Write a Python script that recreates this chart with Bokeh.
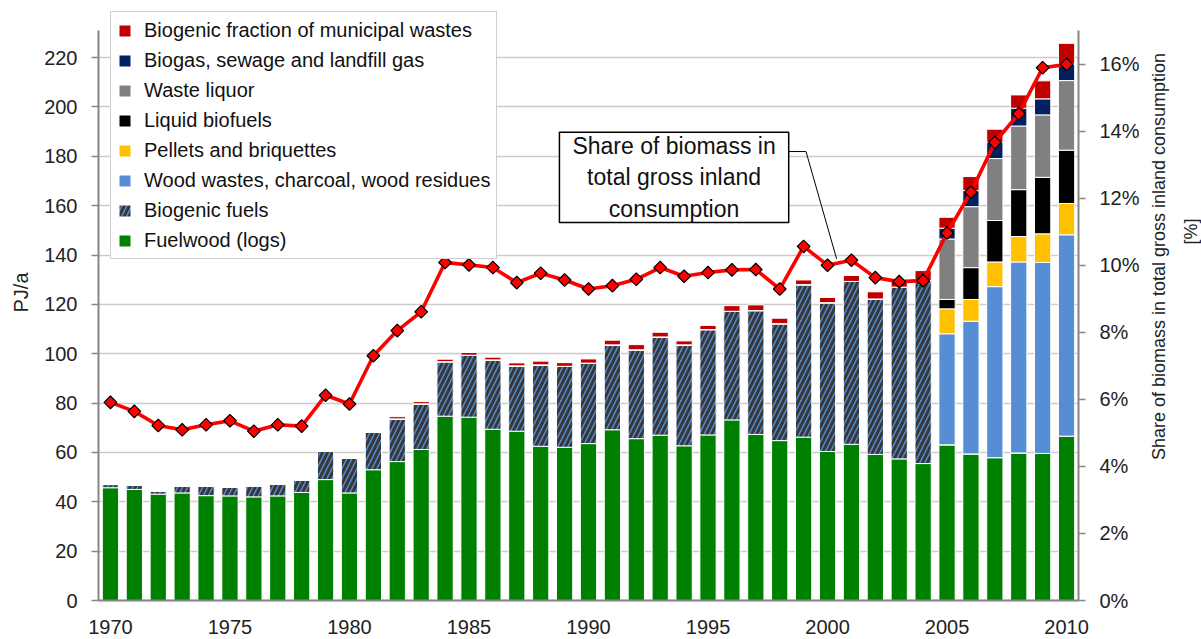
import numpy as np
from bokeh.plotting import figure
from bokeh.models import (Range1d, LinearAxis, FixedTicker, PrintfTickFormatter,
                          Legend, LegendItem, Label, BoxAnnotation)
from bokeh.embed import file_html
from bokeh.resources import INLINE

# ---------------- data (PJ/a) ----------------
years = list(range(1970, 2011))

fuelwood = [45.7, 45.0, 43.1, 43.6, 42.5, 42.4, 42.0, 42.4, 43.8, 49.0,
            43.6, 53.0, 56.3, 61.2, 74.7, 74.3, 69.4, 68.6, 62.5, 62.1,
            63.6, 69.2, 65.6, 67.0, 62.7, 67.1, 73.2, 67.3, 64.8, 66.2,
            60.4, 63.3, 59.2, 57.4, 55.5, 63.1, 59.4, 57.9, 59.8, 59.6,
            66.6]
biogenic_fuels = [1.3, 1.7, 1.3, 2.7, 3.8, 3.5, 4.5, 4.9, 5.1, 11.6,
                  14.1, 15.1, 17.3, 18.5, 22.1, 25.1, 28.1, 26.5, 33.0, 32.8,
                  32.6, 34.4, 36.0, 39.8, 40.9, 42.7, 44.0, 50.2, 47.4, 61.8,
                  60.3, 66.0, 63.0, 69.6, 74.2, 0, 0, 0, 0, 0,
                  0]
wood_wastes = [0] * 35 + [45.0, 53.8, 69.3, 77.4, 77.4, 81.6]
pellets = [0] * 35 + [10.1, 8.8, 10.0, 10.3, 11.6, 12.7]
liquid_biofuels = [0] * 35 + [3.8, 12.9, 16.8, 19.0, 22.9, 21.6]
waste_liquor = [0] * 35 + [24.5, 24.7, 25.1, 25.8, 25.3, 28.2]
biogas = [0] * 35 + [4.4, 6.5, 6.6, 7.2, 6.5, 6.7]
municipal = [0, 0, 0, 0, 0, 0, 0, 0, 0, 0,
             0, 0, 0.9, 0.9, 1.0, 1.1, 1.1, 1.2, 1.5, 1.5,
             1.7, 1.9, 2.1, 1.9, 1.6, 1.7, 2.3, 2.3, 2.2, 1.9,
             2.1, 2.4, 2.9, 2.7, 4.0, 4.4, 5.7, 5.3, 5.4, 7.3,
             8.4]

# share of biomass in total gross inland consumption [%]
share = [5.91, 5.64, 5.22, 5.09, 5.24, 5.36, 5.05, 5.24, 5.20, 6.12,
         5.86, 7.30, 8.05, 8.61, 10.08, 10.01, 9.93, 9.48, 9.76, 9.56,
         9.29, 9.39, 9.58, 9.93, 9.67, 9.78, 9.86, 9.87, 9.29, 10.56,
         10.00, 10.15, 9.63, 9.51, 9.54, 10.96, 12.18, 13.66, 14.52, 15.89,
         15.99]

x_ticks = [1970, 1975, 1980, 1985, 1990, 1995, 2000, 2005, 2010]
y_ticks = [0, 20, 40, 60, 80, 100, 120, 140, 160, 180, 200, 220]
pct_ticks = [0, 2, 4, 6, 8, 10, 12, 14, 16]

series = [
    ("Fuelwood (logs)", fuelwood, "#008000", None),
    ("Biogenic fuels", biogenic_fuels, "#558ED5", "/"),
    ("Wood wastes, charcoal, wood residues", wood_wastes, "#558ED5", None),
    ("Pellets and briquettes", pellets, "#FFC000", None),
    ("Liquid biofuels", liquid_biofuels, "#000000", None),
    ("Waste liquor", waste_liquor, "#808080", None),
    ("Biogas, sewage and landfill gas", biogas, "#002060", None),
    ("Biogenic fraction of municipal wastes", municipal, "#C00000", None),
]

FONT = "Liberation Sans"
X0, X1 = 1969.5, 2010.5               # plotted year extent
Y_MAX, PCT_MAX = 231.0, 17.0          # axis extents

# page layout (pixels): the whole figure is the frame; axes sit at fixed locations
W, H = 1201, 639
AX_L, AX_R, AX_T, AX_B = 98, 1078, 30, 600
PX_YEAR = (AX_R - AX_L) / (X1 - X0)
PX_UNIT = (AX_B - AX_T) / Y_MAX
PX_PCT = (AX_B - AX_T) / PCT_MAX

p = figure(width=W, height=H, output_backend="svg", toolbar_location=None,
           x_range=Range1d(X0 - AX_L / PX_YEAR, X0 + (W - AX_L) / PX_YEAR),
           y_range=Range1d(-(H - AX_B) / PX_UNIT, AX_B / PX_UNIT),
           min_border=0, min_border_left=0, min_border_right=0,
           min_border_top=0, min_border_bottom=0)
p.outline_line_color = None
p.background_fill_color = "white"
p.border_fill_color = "white"
p.extra_y_ranges = {"pct": Range1d(-(H - AX_B) / PX_PCT, AX_B / PX_PCT)}

p.xgrid.visible = False
p.ygrid.ticker = FixedTicker(ticks=y_ticks)
p.ygrid.grid_line_color = "#CCCCCC"
p.ygrid.grid_line_width = 1.5
# keep grid lines inside the plotting area
p.add_layout(BoxAnnotation(left=X1 + 0.03, fill_color="white", fill_alpha=1.0,
                           line_alpha=0, level="underlay"))
p.add_layout(BoxAnnotation(right=X0 - 0.03, fill_color="white", fill_alpha=1.0,
                           line_alpha=0, level="underlay"))

# ---------------- bars ----------------
bottom = np.zeros(len(years))
renderers = {}
for name, vals, col, hatch in series:
    v = np.array(vals, dtype=float)
    kw = {}
    if hatch:
        kw = dict(hatch_pattern=hatch, hatch_color="#383838", hatch_scale=10,
                  hatch_weight=3.1)
    r = p.vbar(x=years, top=bottom + v, bottom=bottom.copy(), width=0.68,
               fill_color=col, line_color="white", line_width=1, **kw)
    renderers[name] = r
    bottom = bottom + v

# ---------------- share line ----------------
p.line(x=years, y=share, y_range_name="pct", line_color="#FF0000", line_width=3.6)
p.scatter(x=years, y=share, y_range_name="pct", marker="square", angle=np.pi / 4,
          size=9, fill_color="#FF0000", line_color="black", line_width=1.2)

# ---------------- axes ----------------
xa = p.xaxis[0]
xa.fixed_location = 0
xa.bounds = (X0, X1)
xa.ticker = FixedTicker(ticks=x_ticks)
xa.major_tick_out = 0
xa.major_tick_in = 0
xa.minor_tick_out = 0
xa.minor_tick_in = 0
xa.axis_line_color = "#868686"
xa.axis_line_width = 2
xa.major_label_standoff = 19
xa.major_label_text_font = FONT
xa.major_label_text_font_size = "20px"
xa.major_label_text_color = "#222222"

ya = p.yaxis[0]
ya.fixed_location = X0
ya.bounds = (0, Y_MAX)
ya.ticker = FixedTicker(ticks=y_ticks)
ya.major_tick_out = 7
ya.major_tick_in = 0
ya.minor_tick_out = 0
ya.minor_tick_in = 0
ya.major_tick_line_color = "#868686"
ya.major_tick_line_width = 1.5
ya.axis_line_color = "#868686"
ya.axis_line_width = 2
ya.major_label_standoff = 14
ya.major_label_text_font = FONT
ya.major_label_text_font_size = "20px"
ya.major_label_text_color = "#222222"

ra = LinearAxis(y_range_name="pct", ticker=FixedTicker(ticks=pct_ticks),
                formatter=PrintfTickFormatter(format="%d%%"), bounds=(0, PCT_MAX),
                fixed_location=X1)
ra.major_tick_out = 7
ra.major_tick_in = 0
ra.minor_tick_out = 0
ra.minor_tick_in = 0
ra.major_tick_line_color = "#868686"
ra.major_tick_line_width = 1.5
ra.axis_line_color = "#868686"
ra.axis_line_width = 2
ra.major_label_standoff = 14
ra.major_label_text_font = FONT
ra.major_label_text_font_size = "20px"
ra.major_label_text_color = "#222222"
p.add_layout(ra, "right")

# axis titles (reading upwards)
p.add_layout(Label(x=X0 - 78 / PX_YEAR, y=(AX_B - 292) / PX_UNIT, text="PJ/a",
                   angle=np.pi / 2, text_align="center", text_baseline="middle",
                   text_font=FONT, text_font_size="20px", text_color="#222222"))
p.add_layout(Label(x=X1 + 80 / PX_YEAR, y=(AX_B - 256) / PX_PCT, y_range_name="pct",
                   text="Share of biomass in total gross inland consumption",
                   angle=np.pi / 2, text_align="center", text_baseline="middle",
                   text_font=FONT, text_font_size="18px", text_color="#222222"))
p.add_layout(Label(x=X1 + 112 / PX_YEAR, y=(AX_B - 231) / PX_PCT, y_range_name="pct",
                   text="[%]", angle=np.pi / 2, text_align="center",
                   text_baseline="middle", text_font=FONT, text_font_size="18px",
                   text_color="#222222"))

# ---------------- legend ----------------
order = ["Biogenic fraction of municipal wastes", "Biogas, sewage and landfill gas",
         "Waste liquor", "Liquid biofuels", "Pellets and briquettes",
         "Wood wastes, charcoal, wood residues", "Biogenic fuels", "Fuelwood (logs)"]
legend = Legend(items=[LegendItem(label=n, renderers=[renderers[n]]) for n in order],
                location=(110, 380), orientation="vertical")
legend.label_text_font = FONT
legend.label_text_font_size = "20px"
legend.label_text_color = "#111111"
legend.glyph_width = 15
legend.glyph_height = 15
legend.label_height = 24
legend.label_standoff = 12
legend.spacing = 6
legend.padding = 6
legend.margin = 0
legend.border_line_color = "#A0A0A0"
legend.border_line_width = 1.5
legend.background_fill_color = "white"
legend.background_fill_alpha = 1.0
p.add_layout(legend, "center")

# ---------------- callout ----------------
callout = Label(x=1993.58, y=12.62, y_range_name="pct",
                text="Share of biomass in\ntotal gross inland\nconsumption",
                text_align="center", text_baseline="middle",
                text_font=FONT, text_font_size="23px", text_color="#111111",
                background_fill_color="white", border_line_color="black",
                border_line_width=1.5,
                padding=dict(left=13, right=13, top=1, bottom=1))
p.add_layout(callout)
p.line(x=[1998.39, 1999.10, 2000.38], y=[13.39, 13.39, 10.19], y_range_name="pct",
       line_color="black", line_width=1)

open("out.html", "w").write(file_html(p, INLINE))
